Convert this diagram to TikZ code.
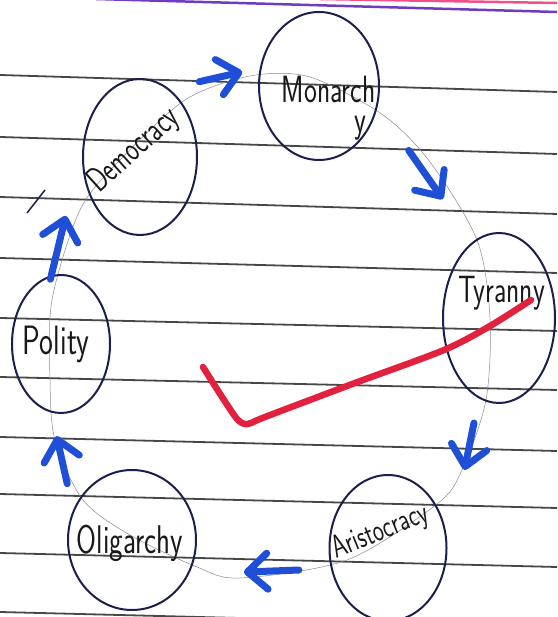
\documentclass[tikz,border=0pt]{standalone}
\usepackage{fontspec}
\usepackage{graphicx}
\usetikzlibrary{shapes.geometric, arrows.meta}
\newcommand{\handsize}[1]{\sffamily\fontsize{#1}{30}\selectfont}
\newcommand{\squeeze}[1]{\scalebox{0.72}[1]{#1}}
\definecolor{INK1}{HTML}{1C1F4D}
\definecolor{INK2}{HTML}{1F4FD6}
\definecolor{INK3}{HTML}{E2213F}
\definecolor{INK4}{HTML}{6E3CC0}
\definecolor{INK5}{HTML}{F0508A}
\tikzstyle{govt} = [ellipse, draw=INK1, line width=2pt, inner sep=0pt]
\tikzstyle{govname} = [anchor=base, inner sep=0pt, text=black!90, font=\handsize{38}]
\tikzstyle{arrow} = [line width=7pt, draw=INK2, line cap=round, -{Straight Barb[length=20pt, width=36pt, round]}]
\tikzstyle{ruling} = [line width=1.8pt, draw=black!72]
\tikzstyle{guide} = [line width=0.5pt, draw=black!45]
\tikzstyle{checkmark} = [line width=6.5pt, draw=INK3, line cap=round, line join=round]

\begin{document}
\begin{tikzpicture}[x=1pt, y=1pt, node distance=100pt]

\fill[white] (0,0) rectangle (557,617);
\useasboundingbox (0,0) rectangle (557,617);

% paper
\foreach \l/\r in {75/92, 137/154, 197/214, 258/273, 318/331, 377/390, 437/451, 494/508, 553/567, 612/626}
  \draw[ruling] (0,617-\l) -- (557,617-\r);
\draw[INK4, line width=2.5pt] (96,618) -- (557,605);
\draw[INK5, line width=2.5pt] (320,618) -- (557,614);

% pencil line
\draw[guide] plot[smooth cycle] coordinates {(250,541) (310,540) (383,502) (430,455) (477,377) (490,299) (486,217) (462,147) (437,113) (347,57) (240,39) (197,50) (130,82) (83,117) (55,177) (50,237) (52,317) (80,407) (120,457) (185,517)};
\draw[INK1, line width=1.5pt] (27,404) -- (45,427);

\node (democracy) [govt, minimum width=114pt, minimum height=156pt] at (140,460) {};
\node (monarchy) [govt, minimum width=120pt, minimum height=148pt, right of=democracy, xshift=79pt, yshift=71pt] {};
\node (tyranny) [govt, minimum width=112pt, minimum height=170pt, below of=monarchy, xshift=180pt, yshift=-132pt] {};
\node (aristocracy) [govt, minimum width=117pt, minimum height=146pt, below of=tyranny, xshift=-111pt, yshift=-130pt] {};
\node (oligarchy) [govt, minimum width=128pt, minimum height=140pt, left of=aristocracy, xshift=-156pt, yshift=8pt] {};
\node (polity) [govt, minimum width=98pt, minimum height=138pt, above of=oligarchy, xshift=-71pt, yshift=96pt] {};

\node (democracy-name) [govname, font=\handsize{35}, rotate=42] at (democracy) {\squeeze{Democracy}};
\node (monarchy-name) [govname, align=right, xshift=9.5pt, yshift=-47pt] at (monarchy) {\squeeze{Monarch}\\\squeeze{y}\hspace*{9pt}};
\node (tyranny-name) [govname, xshift=2.5pt, yshift=15pt] at (tyranny) {\squeeze{Tyranny}};
\node (aristocracy-name) [govname, font=\handsize{32}, xshift=-4.6pt, yshift=8.4pt, rotate=22] at (aristocracy) {\squeeze{Aristocracy}};
\node (oligarchy-name) [govname, font=\handsize{40}, xshift=-2pt, yshift=-14pt] at (oligarchy) {\squeeze{Oligarchy}};
\node (polity-name) [govname, font=\handsize{41}, xshift=-5pt, yshift=-11pt] at (polity) {\squeeze{Polity}};

\draw [arrow, shorten <=31pt, shorten >=18pt] (democracy.67) -- (monarchy.163);
\draw [arrow, shorten <=54pt, shorten >=52pt] (monarchy.-19) -- (tyranny.109);
\draw [arrow, shorten <=25pt, shorten >=87pt] (tyranny.-104) -- (aristocracy.-7);
\draw [arrow, shorten <=32pt, shorten >=55pt] (aristocracy.200) -- (oligarchy.-31);
\draw [arrow, shorten <=27pt, shorten >=24pt] (oligarchy.153) -- (polity.-98);
\draw [arrow, shorten <=-4pt, shorten >=71pt] (polity.98) -- (democracy.170);

\draw[checkmark] plot[smooth, tension=0.5] coordinates {(203,250) (224,217) (238,197) (248,193) (265,200) (355,234) (444,267) (490,291) (531,317)};

\end{tikzpicture}
\end{document}
